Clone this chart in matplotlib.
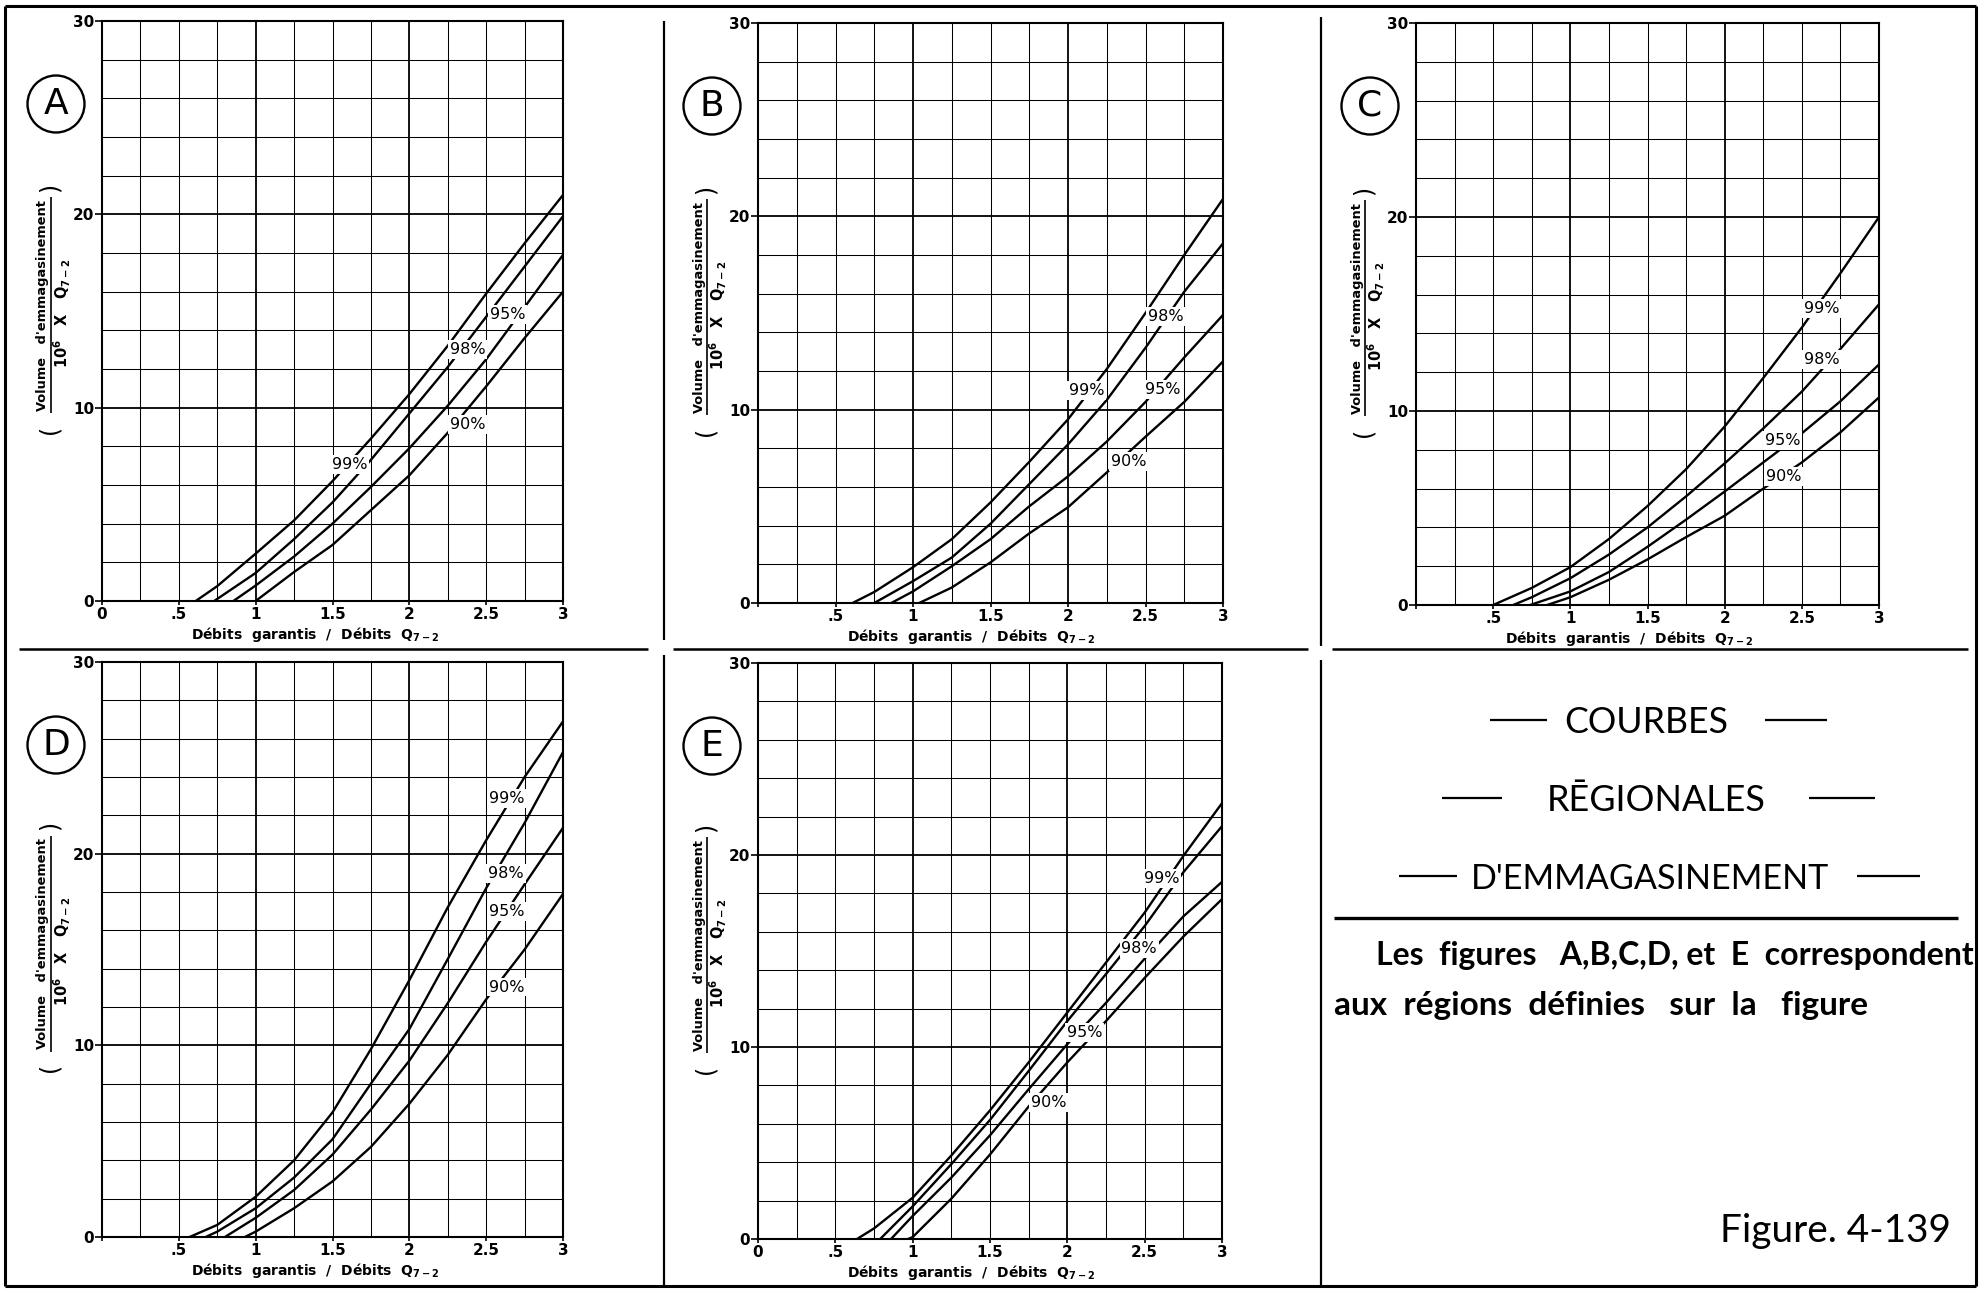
import math
import numpy as np
import matplotlib
matplotlib.use("Agg")
import matplotlib.pyplot as plt
from matplotlib.lines import Line2D
from matplotlib.patches import Ellipse

plt.rcParams["font.family"] = ["DejaVu Sans"]
plt.rcParams["mathtext.default"] = "bf"

W, H = 1982, 1290
nan = float("nan")

# ---------------------------------------------------------------- data
LEVELS = ["99%", "98%", "95%", "90%"]
STEPS = [0.75, 1.0, 1.25, 1.5, 1.75, 2.0, 2.25, 2.5, 2.75, 3.0]
X_TICKS = [0, 0.5, 1, 1.5, 2, 2.5, 3]
X_TICK_LABELS = ["0", ".5", "1", "1.5", "2", "2.5", "3"]
Y_TICKS = [0, 10, 20, 30]
Y_TICK_LABELS = ["0", "10", "20", "30"]

# Region A: ratio where each curve leaves zero, then volumes at STEPS
A_START = [0.61, 0.73, 0.855, 1.00]
A_99 = [0.77, 2.45, 4.17, 6.2, 8.4, 10.7, 13.2, 15.9, 18.5, 21.0]
A_98 = [nan, 1.45, 3.2, 5.1, 7.3, 9.7, 12.1, 14.7, 17.3, 19.9]
A_95 = [nan, 0.8, 2.3, 4.0, 5.9, 7.9, 10.1, 12.5, 15.2, 17.9]
A_90 = [nan, nan, 1.5, 2.9, 4.7, 6.5, 8.7, 11.1, 13.6, 16.0]

# Region B
B_START = [0.61, 0.75, 0.86, 1.04]
B_99 = [0.57, 1.85, 3.3, 5.2, 7.3, 9.5, 12.1, 15.0, 18.0, 20.9]
B_98 = [nan, 1.13, 2.35, 4.1, 6.15, 8.2, 10.5, 13.2, 16.1, 18.6]
B_95 = [nan, 0.6, 1.9, 3.3, 5.0, 6.55, 8.35, 10.4, 12.7, 14.9]
B_90 = [nan, nan, 0.8, 2.1, 3.6, 4.95, 6.75, 8.6, 10.4, 12.5]

# Region C
C_START = [0.50, 0.63, 0.74, 0.85]
C_99 = [0.88, 1.95, 3.4, 5.1, 7.0, 9.2, 11.7, 14.3, 17.1, 20.0]
C_98 = [0.4, 1.38, 2.6, 4.0, 5.6, 7.3, 9.1, 11.0, 13.2, 15.5]
C_95 = [nan, 0.7, 1.7, 3.0, 4.4, 5.85, 7.35, 8.85, 10.5, 12.4]
C_90 = [nan, 0.4, 1.3, 2.35, 3.5, 4.6, 6.0, 7.35, 8.9, 10.7]

# Region D
D_START = [0.57, 0.675, 0.80, 0.93]
D_99 = [0.63, 2.1, 4.0, 6.5, 9.8, 13.4, 17.2, 20.7, 24.0, 26.9]
D_98 = [0.28, 1.5, 3.1, 5.1, 8.0, 10.85, 14.5, 18.2, 21.6, 25.3]
D_95 = [nan, 1.0, 2.45, 4.3, 6.65, 9.2, 12.2, 15.4, 18.4, 21.35]
D_90 = [nan, 0.28, 1.5, 2.9, 4.7, 6.95, 9.5, 12.4, 15.0, 17.9]

# Region E
E_START = [0.64, 0.79, 0.86, 0.97]
E_99 = [0.55, 2.15, 4.35, 6.7, 9.2, 11.8, 14.4, 17.0, 19.95, 22.7]
E_98 = [nan, 1.7, 3.9, 6.2, 8.75, 11.35, 13.8, 16.3, 19.1, 21.5]
E_95 = [nan, 1.2, 3.2, 5.4, 7.8, 10.15, 12.3, 14.6, 16.8, 18.6]
E_90 = [nan, 0.1, 2.1, 4.4, 6.9, 9.2, 11.35, 13.6, 15.75, 17.7]

REGIONS = ["A", "B", "C", "D", "E"]
STARTS = {"A": A_START, "B": B_START, "C": C_START, "D": D_START, "E": E_START}
SERIES = {
    "A": [A_99, A_98, A_95, A_90],
    "B": [B_99, B_98, B_95, B_90],
    "C": [C_99, C_98, C_95, C_90],
    "D": [D_99, D_98, D_95, D_90],
    "E": [E_99, E_98, E_95, E_90],
}

# ---------------------------------------------------------------- layout
# axes boxes in pixels: left, top, right, bottom
BOXES = {
    "A": (102, 21, 563, 601),
    "B": (758, 23, 1223, 603),
    "C": (1416, 23, 1879, 605),
    "D": (102, 662, 563, 1237),
    "E": (758, 663, 1222, 1239),
}
SHOW_ZERO = {"A": True, "B": False, "C": False, "D": False, "E": True}
# curve label anchors (data coordinates), same order as LEVELS
LABEL_XY = {
    "A": [(1.61, 7.06), (2.38, 13.0), (2.64, 14.8), (2.38, 9.15)],
    "B": [(2.12, 10.97), (2.63, 14.8), (2.61, 11.06), (2.39, 7.33)],
    "C": [(2.63, 15.3), (2.63, 12.66), (2.375, 8.5), (2.38, 6.64)],
    "D": [(2.635, 22.86), (2.63, 18.97), (2.635, 17.0), (2.635, 13.04)],
    "E": [(2.61, 18.77), (2.465, 15.14), (2.11, 10.74), (1.88, 7.1)],
}

fig = plt.figure(figsize=(W / 100, H / 100), dpi=100)
fig.patch.set_facecolor("white")
renderer = fig.canvas.get_renderer()


def fx(x):
    return x / W


def fy(y):
    return 1 - y / H


def seg(x0, y0, x1, y1, lw=1.6):
    fig.add_artist(Line2D([fx(x0), fx(x1)], [fy(y0), fy(y1)],
                          transform=fig.transFigure, color="black", lw=lw,
                          solid_capstyle="butt"))


def fit(t, target, vertical=False):
    bb = t.get_window_extent(renderer)
    cur = bb.height if vertical else bb.width
    t.set_fontsize(t.get_fontsize() * target / cur)
    return t


def curve(start, values):
    xs, ys = [start], [0.0]
    for s, v in zip(STEPS, values):
        if s > start and not math.isnan(v):
            xs.append(s)
            ys.append(v)
    return xs, ys


for reg in REGIONS:
    l, t, r, b = BOXES[reg]
    ax = fig.add_axes([fx(l), fy(b), (r - l) / W, (b - t) / H])
    ax.set_xlim(0, 3)
    ax.set_ylim(0, 30)
    ax.set_facecolor("white")

    for xv in np.arange(0.25, 3.0, 0.25):
        major = abs(xv - round(xv)) < 1e-9
        ax.axvline(xv, color="black", lw=1.3 if major else 0.75, zorder=1)
    for yv in np.arange(2, 30, 2):
        major = yv % 10 == 0
        ax.axhline(yv, color="black", lw=1.3 if major else 0.75, zorder=1)
    for sp in ax.spines.values():
        sp.set_linewidth(1.5)

    for start, vals in zip(STARTS[reg], SERIES[reg]):
        xs, ys = curve(start, vals)
        ax.plot(xs, ys, color="black", lw=1.7, zorder=3,
                solid_joinstyle="round")
    for lab, (lx, ly) in zip(LEVELS, LABEL_XY[reg]):
        ax.text(lx, ly, lab, ha="center", va="center", fontsize=11.5,
                zorder=4, bbox=dict(boxstyle="square,pad=0.12", fc="white",
                                    ec="none"))

    xlabels = list(X_TICK_LABELS)
    if not SHOW_ZERO[reg]:
        xlabels[0] = ""
    ax.set_xticks(X_TICKS)
    ax.set_xticklabels(xlabels, fontweight="bold", fontsize=11)
    ax.set_yticks(Y_TICKS)
    ax.set_yticklabels(Y_TICK_LABELS, fontweight="bold", fontsize=11)
    ax.tick_params(axis="x", direction="out", length=3, width=1.2, pad=1.5)
    ax.tick_params(axis="y", direction="out", length=5, width=1.2, pad=0.5)

    # x axis title
    xt = fig.text(fx(l + 89), fy(b + 34),
                  "Débits  garantis  /  Débits  Q$_{7-2}$",
                  ha="left", va="center", fontsize=10, fontweight="bold")
    fit(xt, 248)

    # y axis title drawn as a fraction in parentheses
    yc = b - 0.51 * (b - t)
    num = fig.text(fx(l - 59), fy(yc), "Volume   d'emmagasinement",
                   rotation=90, ha="center", va="center", fontsize=9,
                   fontweight="bold")
    fit(num, 212, vertical=True)
    seg(l - 51, yc - 108, l - 51, yc + 108, lw=1.2)
    den = fig.text(fx(l - 40), fy(yc + 8), "10$^{6}$   X   Q$_{7-2}$",
                   rotation=90, ha="center", va="center", fontsize=9,
                   fontweight="bold")
    fit(den, 110, vertical=True)
    fig.text(fx(l - 52), fy(yc + 124), "(", rotation=90, ha="center",
             va="center", fontsize=17)
    fig.text(fx(l - 52), fy(yc - 118), ")", rotation=90, ha="center",
             va="center", fontsize=17)

    # circled region letter
    cx, cy = l - 46, t + 83
    fig.add_artist(Ellipse((fx(cx), fy(cy)), 57 / W, 57 / H,
                           transform=fig.transFigure, fill=False,
                           ec="black", lw=1.7))
    fig.text(fx(cx), fy(cy), reg, ha="center", va="center", fontsize=26)

# ---------------------------------------------------------------- frame
seg(5, 6, 1976, 6, lw=2.2)
seg(5, 1286, 1976, 1286, lw=2.2)
seg(5, 6, 5, 1286, lw=2.2)
seg(1976, 6, 1976, 1286, lw=2.2)
seg(19, 649, 648, 649, lw=1.8)
seg(673, 649, 1308, 649, lw=1.8)
seg(1332, 649, 1968, 649, lw=1.8)
seg(664, 21, 664, 640, lw=1.6)
seg(664, 655, 664, 1285, lw=1.6)
seg(1321, 17, 1321, 646, lw=1.6)
seg(1321, 660, 1321, 1285, lw=1.6)

# ---------------------------------------------------------------- title block
TFONT = ["Lato", "DejaVu Sans"]
for text, x0, x1, base, d1, d2 in [
    ("COURBES", 1564, 1728, 733, (1490, 1547), (1765, 1827)),
    ("RĒGIONALES", 1547, 1766, 811, (1442, 1502), (1809, 1875)),
    ("D'EMMAGASINEMENT", 1471, 1829, 889, (1399, 1457), (1857, 1920)),
]:
    tt = fig.text(fx(x0), fy(base), text, ha="left", va="baseline",
                  fontsize=24, family=TFONT)
    fit(tt, x1 - x0)
    ymid = base - 13
    seg(d1[0], ymid, d1[1], ymid, lw=1.6)
    seg(d2[0], ymid, d2[1], ymid, lw=1.6)

seg(1334, 918, 1958, 918, lw=2.4)

t1 = fig.text(fx(1376), fy(965), "Les  figures   A,B,C,D, et  E  correspondent",
              ha="left", va="baseline", fontsize=20, fontweight="bold",
              family=TFONT)
fit(t1, 598)
t2 = fig.text(fx(1334), fy(1015), "aux  régions  définies   sur  la   figure",
              ha="left", va="baseline", fontsize=20, fontweight="bold",
              family=TFONT)
fit(t2, 533)
t3 = fig.text(fx(1720), fy(1242), "Figure. 4-139", ha="left", va="baseline",
              fontsize=26, family=TFONT)
fit(t3, 231)

fig.savefig("out.png", dpi=100, facecolor="white")
